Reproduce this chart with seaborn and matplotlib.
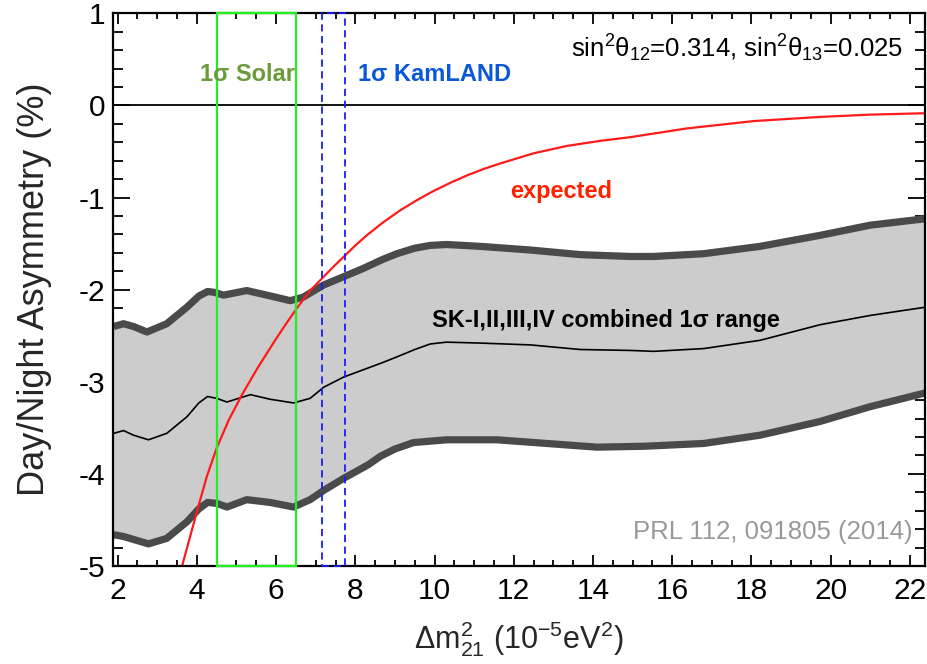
import matplotlib
matplotlib.use("Agg")
import matplotlib.pyplot as plt
import numpy as np
import seaborn as sns
from matplotlib.patches import Rectangle
from matplotlib.ticker import MultipleLocator

# SK combined 1-sigma band (day/night asymmetry in %) vs Delta m^2_21 (1e-5 eV^2)
upper_dm2 = [1.9, 2.15, 2.4, 2.74, 3.24, 3.75, 4.05, 4.27, 4.45, 4.67, 5.26, 5.77, 6.36, 6.69,
             7.2, 7.7, 8.2, 8.7, 9.05, 9.5, 9.89, 10.3, 11.15, 12.42, 13.68, 14.94, 15.53,
             16.79, 18.22, 19.74, 21.0, 22.4]
upper_asym = [-2.40, -2.37, -2.40, -2.46, -2.37, -2.19, -2.07, -2.02, -2.03, -2.06, -2.01, -2.06,
              -2.12, -2.08, -1.95, -1.86, -1.77, -1.67, -1.61, -1.55, -1.52, -1.51, -1.53, -1.57,
              -1.62, -1.64, -1.64, -1.61, -1.53, -1.41, -1.30, -1.23]

center_dm2 = [1.9, 2.15, 2.4, 2.78, 3.24, 3.75, 4.05, 4.27, 4.5, 4.76, 5.35, 5.85, 6.44, 6.86,
              7.2, 7.7, 8.2, 8.7, 9.05, 9.5, 9.89, 10.3, 11.15, 12.42, 13.68, 14.94, 15.53,
              16.79, 18.22, 19.74, 21.0, 22.4]
center_asym = [-3.56, -3.53, -3.58, -3.63, -3.56, -3.38, -3.23, -3.16, -3.18, -3.22, -3.14, -3.19,
               -3.23, -3.18, -3.06, -2.95, -2.87, -2.79, -2.73, -2.65, -2.59, -2.57, -2.58, -2.60,
               -2.65, -2.66, -2.67, -2.64, -2.55, -2.38, -2.28, -2.19]

lower_dm2 = [1.9, 2.15, 2.78, 3.24, 3.75, 4.05, 4.27, 4.5, 4.76, 5.26, 5.85, 6.44, 6.86,
             7.2, 7.7, 8.33, 8.63, 9.0, 9.47, 10.31, 11.57, 12.84, 14.1, 15.3, 16.79,
             18.22, 19.74, 21.0, 22.4]
lower_asym = [-4.66, -4.68, -4.76, -4.70, -4.52, -4.38, -4.31, -4.32, -4.36, -4.28, -4.31, -4.36,
              -4.28, -4.18, -4.05, -3.90, -3.81, -3.73, -3.66, -3.63, -3.63, -3.67, -3.71, -3.70,
              -3.67, -3.58, -3.43, -3.27, -3.12]

# Expected asymmetry for sin^2(theta12)=0.314, sin^2(theta13)=0.025
expected_dm2 = [3.62, 3.83, 4.04, 4.25, 4.50, 4.80, 5.14, 5.52, 5.93, 6.19, 6.51, 6.86,
                7.11, 7.45, 7.74, 8.0, 8.29, 8.7, 9.13, 9.55, 9.97, 10.4, 10.82, 11.24,
                11.66, 12.5, 13.34, 14.18, 14.94, 16.37, 18.06, 19.74, 21.0, 22.4]
expected_asym = [-5.01, -4.68, -4.35, -4.03, -3.72, -3.42, -3.14, -2.86, -2.58, -2.41, -2.21, -2.01,
                 -1.90, -1.75, -1.63, -1.52, -1.41, -1.27, -1.14, -1.03, -0.93, -0.84, -0.76, -0.69,
                 -0.63, -0.52, -0.44, -0.385, -0.345, -0.25, -0.17, -0.125, -0.10, -0.085]

# 1-sigma allowed ranges of Delta m^2_21
solar_range = (4.5, 6.5)
kamland_range = (7.15, 7.75)

x_ticks = [2, 4, 6, 8, 10, 12, 14, 16, 18, 20, 22]
y_ticks = [-5, -4, -3, -2, -1, 0, 1]

sns.set_style("ticks")
plt.rcParams["font.family"] = ["Liberation Sans", "DejaVu Sans"]
plt.rcParams["mathtext.fontset"] = "custom"
plt.rcParams["mathtext.rm"] = "Liberation Sans"
plt.rcParams["mathtext.it"] = "Liberation Sans"
plt.rcParams["mathtext.bf"] = "Liberation Sans:bold"
plt.rcParams.update({
    "xtick.direction": "in", "ytick.direction": "in",
    "xtick.top": True, "ytick.right": True,
    "xtick.bottom": True, "ytick.left": True,
    "xtick.minor.visible": True, "ytick.minor.visible": True,
    "xtick.color": "black", "ytick.color": "black",
})

fig = plt.figure(figsize=(9.27, 6.64), dpi=100)
ax = fig.add_axes([0.1222, 0.1476, 0.8756, 0.8324])

XMIN, XMAX = 1.89, 22.38
YMIN, YMAX = -5.0, 1.0

# light grey band between the lower and upper edges
band_x = list(upper_dm2) + list(reversed(lower_dm2))
band_y = list(upper_asym) + list(reversed(lower_asym))
ax.fill(band_x, band_y, color="#cccccc", lw=0, zorder=1)

edge_kw = dict(color="#4a4a4a", lw=5.2, sort=False, estimator=None, ax=ax, zorder=2)
sns.lineplot(x=upper_dm2, y=upper_asym, **edge_kw)
sns.lineplot(x=lower_dm2, y=lower_asym, **edge_kw)
sns.lineplot(x=center_dm2, y=center_asym, color="black", lw=1.2, sort=False,
             estimator=None, ax=ax, zorder=3)
for l in ax.lines:
    l.set_solid_capstyle("butt")
    l.set_solid_joinstyle("round")

ax.axhline(0, color="black", lw=1.3, zorder=3)

sns.lineplot(x=expected_dm2, y=expected_asym, color="#ff1a1a", lw=1.6, sort=False,
             estimator=None, ax=ax, zorder=4)
ax.lines[-1].set_solid_joinstyle("round")

# allowed-range boxes
ax.add_patch(Rectangle((solar_range[0], YMIN), solar_range[1] - solar_range[0], YMAX - YMIN,
                       fill=False, edgecolor="#22ee22", lw=1.6, zorder=5, clip_on=False))
ax.add_patch(Rectangle((kamland_range[0], YMIN), kamland_range[1] - kamland_range[0], YMAX - YMIN,
                       fill=False, edgecolor="#1a1aff", lw=1.3, ls=(0, (4, 2.5)), zorder=5,
                       clip_on=False))

ax.set_xlim(XMIN, XMAX)
ax.set_ylim(YMIN, YMAX)
ax.set_xticks(x_ticks)
ax.set_yticks(y_ticks)
ax.set_xticklabels([str(t) for t in x_ticks])
ax.set_yticklabels([str(t) for t in y_ticks])
ax.xaxis.set_minor_locator(MultipleLocator(0.5))
ax.yaxis.set_minor_locator(MultipleLocator(0.2))
ax.tick_params(axis="both", which="both", direction="in", top=True, right=True,
               bottom=True, left=True, labelsize=21.5, color="black", width=1.3)
ax.tick_params(axis="x", which="major", length=8, pad=8)
ax.tick_params(axis="x", which="minor", length=4.5)
ax.tick_params(axis="y", which="major", length=12, pad=6)
ax.tick_params(axis="y", which="minor", length=7)
for s in ax.spines.values():
    s.set_linewidth(1.6)
    s.set_color("black")
    s.set_visible(True)
    s.set_zorder(4.5)

ax.set_xlabel(r"$\Delta$m$^2_{21}$ (10$^{-5}$eV$^2$)", fontsize=22, labelpad=10.5)
ax.set_ylabel("Day/Night Asymmetry (%)", fontsize=26)
ax.yaxis.set_label_coords(-0.0755, 0.5)

ax.text(4.08, 0.33, "1σ Solar", color="#6a9a3a", fontsize=17, fontweight="bold",
        ha="left", va="center", zorder=6)
ax.text(8.07, 0.33, "1σ KamLAND", color="#0a58d6", fontsize=17, fontweight="bold",
        ha="left", va="center", zorder=6)
ax.text(21.83, 0.62, r"sin$^2\theta_{12}$=0.314, sin$^2\theta_{13}$=0.025", color="black",
        fontsize=18.5, ha="right", va="center", zorder=6)
ax.text(11.91, -0.94, "expected", color="#ff2200", fontsize=17, fontweight="bold",
        ha="left", va="center", zorder=6)
ax.text(9.94, -2.33, "SK-I,II,III,IV combined 1σ range", color="black", fontsize=17,
        fontweight="bold", ha="left", va="center", zorder=6)
ax.text(22.06, -4.63, "PRL 112, 091805 (2014)", color="#999999", fontsize=18.5,
        ha="right", va="center", zorder=6)

fig.savefig("out.png", dpi=100)
